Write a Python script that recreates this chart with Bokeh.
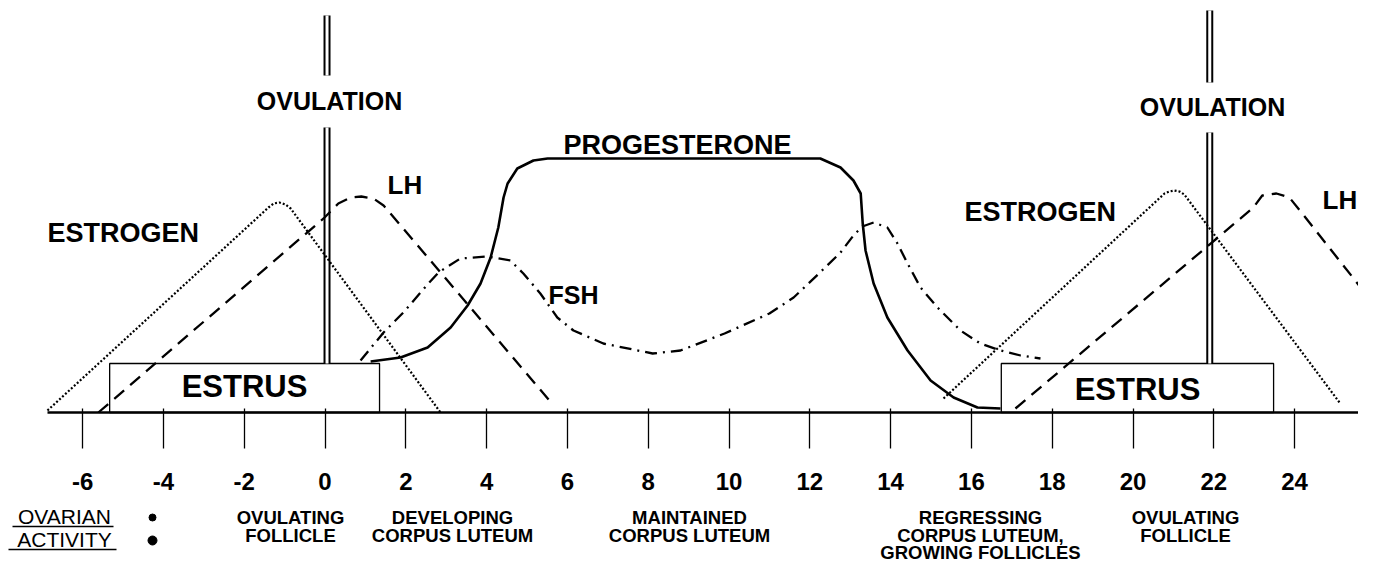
from bokeh.plotting import figure
from bokeh.models import LinearAxis, FixedTicker, Range1d
from bokeh.core.properties import value
from bokeh.embed import file_html
from bokeh.resources import INLINE

# ------------------------------------------------------------------ data
# x = day of the oestrous cycle, y = relative hormone level (arbitrary units)
tick_days = [-6, -4, -2, 0, 2, 4, 6, 8, 10, 12, 14, 16, 18, 20, 22, 24]
tick_labels = ["-6", "-4", "-2", "0", "2", "4", "6", "8", "10", "12", "14",
               "16", "18", "20", "22", "24"]

estrogen1_day = [-6.87, -1.40, -1.27, -1.13, -0.98, -0.85, 2.86]
estrogen1_lvl = [2, 205, 209, 210, 208, 204, 0]
estrogen2_day = [15.31, 20.78, 20.90, 21.02, 21.15, 21.27, 25.13]
estrogen2_lvl = [14, 219, 221, 222, 221, 218, 9]

lh1_day = [-5.61, -0.01, 0.33, 0.63, 0.90, 1.20, 1.45, 5.66]
lh1_lvl = [0, 195, 209, 215, 216, 214, 207, 7]
lh2_day = [17.09, 22.98, 23.20, 23.55, 23.87, 24.19, 25.95]
lh2_lvl = [4, 205, 217, 219, 215, 199, 109]

fsh_day = [0.88, 1.45, 1.94, 2.56, 2.81, 3.35, 4.02, 4.59, 4.91, 5.33, 5.75,
           6.15, 6.89, 8.11, 8.80, 9.89, 11.0, 11.6, 12.2, 12.76, 13.08,
           13.30, 13.58, 13.92, 14.17, 14.42, 14.74, 15.16, 15.73, 16.22,
           16.72, 17.22, 17.71]
fsh_lvl = [52, 80, 100, 129, 140, 154, 156, 152, 139, 119, 95,
           82, 69, 59, 62, 79, 99, 115, 138, 160, 177,
           186, 190, 185, 169, 149, 125, 105, 82, 69,
           62, 57, 54]

prog_day = [1.13, 1.87, 2.54, 3.11, 3.53, 3.85, 4.10, 4.29, 4.42, 4.52, 4.76,
            5.16, 5.51, 12.26, 12.76, 13.08, 13.26, 13.31, 13.38, 13.58,
            13.92, 14.42, 14.99, 15.56, 16.15, 16.72]
prog_lvl = [51, 55, 65, 85, 107, 129, 155, 185, 215, 229, 244,
            252, 254, 254, 245, 232, 219, 189, 162, 129,
            95, 62, 32, 15, 5, 4]

ovulation_days = [0.05, 21.9]
estrus_start = [-5.33, 16.74]
estrus_end = [1.35, 23.48]

hormone_labels = ["ESTROGEN", "LH", "FSH", "PROGESTERONE", "ESTROGEN", "LH"]
ovulation_label = "OVULATION"
estrus_label = "ESTRUS"
activity_title = ["OVARIAN", "ACTIVITY"]
activity_labels = [["OVULATING", "FOLLICLE"],
                   ["DEVELOPING", "CORPUS LUTEUM"],
                   ["MAINTAINED", "CORPUS LUTEUM"],
                   ["REGRESSING", "CORPUS LUTEUM,", "GROWING FOLLICLES"],
                   ["OVULATING", "FOLLICLE"]]

# ------------------------------------------------------------------ layout
W, H = 1358, 564
DAY0_PX = 324.5      # x pixel of day 0
PX_PER_DAY = 40.4
BASE_PY = 412        # y pixel of the axis line


def fx(px):
    return (px - DAY0_PX) / PX_PER_DAY


def fy(py):
    return BASE_PY - py


FONT = value("Liberation Sans")

p = figure(width=W, height=H,
           x_range=Range1d(fx(0), fx(W)), y_range=Range1d(fy(H), fy(0)),
           output_backend="svg", toolbar_location=None, tools="",
           x_axis_location=None, y_axis_location=None,
           min_border=0, outline_line_color=None,
           background_fill_color="white", border_fill_color="white")
p.grid.visible = False

axis = LinearAxis(fixed_location=0, bounds=(fx(47), fx(1368)),
                  ticker=FixedTicker(ticks=tick_days),
                  major_label_overrides={d: l for d, l in zip(tick_days, tick_labels)},
                  axis_line_width=2.5, axis_line_color="black",
                  major_tick_in=4, major_tick_out=36,
                  major_tick_line_width=1.3, major_tick_line_color="black",
                  minor_tick_line_color=None,
                  major_label_standoff=24,
                  major_label_text_font="Liberation Sans",
                  major_label_text_font_size="24px",
                  major_label_text_font_style="bold",
                  major_label_text_color="black")
p.add_layout(axis, "below")

# estrus boxes
ESTRUS_TOP = fy(363)
p.quad(left=estrus_start, right=estrus_end, bottom=0, top=ESTRUS_TOP,
       fill_color="white", line_color="black", line_width=1.3)

# ovulation double lines (broken by the label)
ov_low_top = [fy(127), fy(132)]
ov_up_bot = [fy(75), fy(82)]
ov_up_top = [fy(15), fy(10)]
for w, c in ((7, "black"), (3, "white")):
    p.segment(x0=ovulation_days, y0=[ESTRUS_TOP] * 2, x1=ovulation_days, y1=ov_low_top,
              line_width=w, line_color=c)
    p.segment(x0=ovulation_days, y0=ov_up_bot, x1=ovulation_days, y1=ov_up_top,
              line_width=w, line_color=c)

# hormone curves
p.line(estrogen1_day, estrogen1_lvl, line_color="black", line_width=2.2, line_dash="2 2")
p.line(estrogen2_day, estrogen2_lvl, line_color="black", line_width=2.2, line_dash="2 2")
p.line(lh1_day, lh1_lvl, line_color="black", line_width=2.3, line_dash="13 8")
p.line(lh2_day, lh2_lvl, line_color="black", line_width=2.3, line_dash="13 8")
p.line(fsh_day, fsh_lvl, line_color="black", line_width=2.3, line_dash="12 6 2 6")
p.line(prog_day, prog_lvl, line_color="black", line_width=2.6)


def put(txt, px, py, size, align="center", style="bold"):
    # (px, py) = horizontal anchor and vertical centre of the capitals
    p.text(x=[fx(px)], y=[fy(py)], text=[txt], text_font=FONT, text_font_style=style,
           text_font_size=size, text_align=align, text_baseline="middle",
           text_color="black")


# hormone labels
h_pos = [(47, 232.5, "left", "27px"), (387, 184, "left", "26px"),
         (548, 294, "left", "25px"), (677, 144.5, "center", "27px"),
         (964, 211, "left", "27px"), (1322, 199.5, "left", "26px")]
for lab, (px, py, al, fs) in zip(hormone_labels, h_pos):
    put(lab, px, py, fs, al)

# ovulation and estrus labels
put(ovulation_label, 329, 100.5, "25px")
put(ovulation_label, 1212, 106, "25px")
put(estrus_label, 244, 385.5, "31px")
put(estrus_label, 1137, 389, "31px")

# ovarian activity
act_cx = [290, 452, 689, 980, 1185]
line_cy = [517, 535, 552]
for cx, lines in zip(act_cx, activity_labels):
    for i, ln in enumerate(lines):
        put(ln, cx, line_cy[i], "18.5px")

title_cy = [516, 539]
for ln, cy in zip(activity_title, title_cy):
    put(ln, 64, cy, "21px", style="normal")
p.segment(x0=[fx(12), fx(8)], y0=[fy(526), fy(549)], x1=[fx(113), fx(116)],
          y1=[fy(526), fy(549)], line_color="black", line_width=1.6)
p.scatter(x=[fx(152), fx(152)], y=[fy(517), fy(540)], size=[7, 9],
          marker="circle", fill_color="black", line_color="black")

open("out.html", "w").write(file_html(p, INLINE))
